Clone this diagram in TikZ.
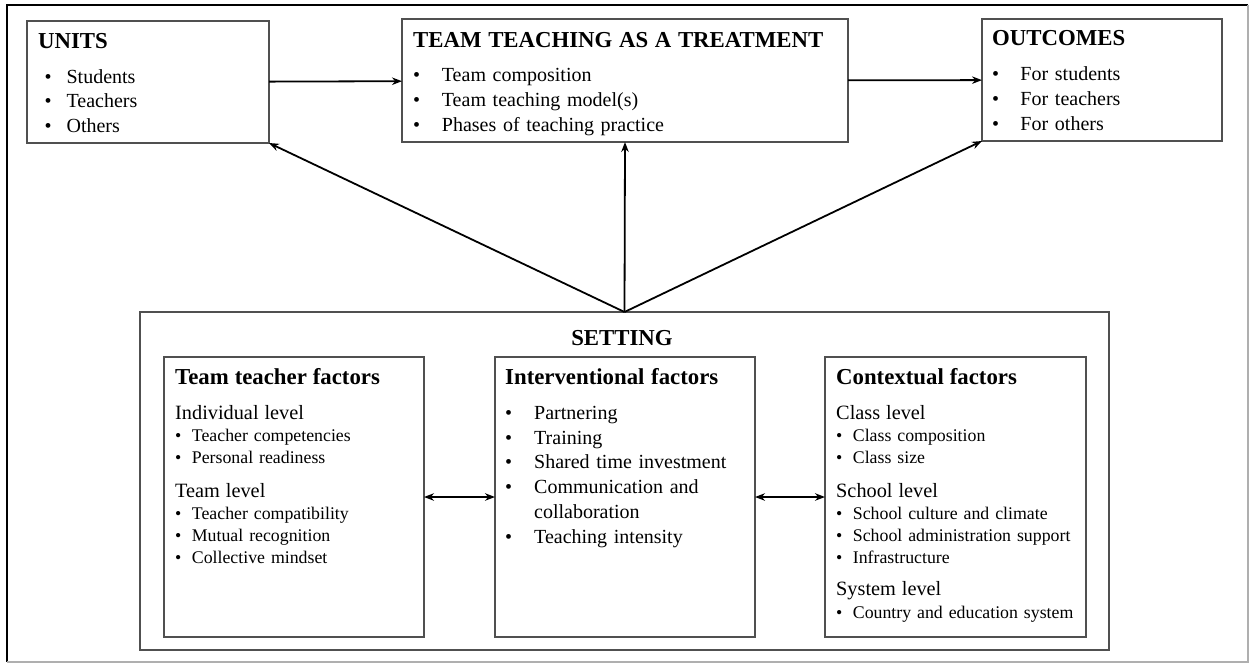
\documentclass[tikz,border=0pt]{standalone}
\usepackage{fontspec}
\setmainfont{Liberation Serif}
\usetikzlibrary{positioning,arrows.meta}
\definecolor{BoxGray}{RGB}{80,80,80}
\definecolor{FrameGray}{RGB}{175,175,175}
\setlength{\parindent}{0pt}
\newcommand{\hd}{\fontsize{22.8}{26}\selectfont\bfseries}
\newcommand{\lvl}{\fontsize{20.3}{22}\selectfont}
\newcommand{\bul}[3][0pt]{\makebox[#2][l]{\hspace*{#1}\textbullet}#3}

\begin{document}
\begin{tikzpicture}[x=1pt, y=-1pt,
  box/.style={draw=BoxGray, line width=1.6pt, inner sep=0pt, outer sep=0pt, anchor=north west},
  txt/.style={inner sep=0pt, anchor=north west, align=left},
  arr/.style={-{Stealth[length=10pt, width=7.5pt]}, line width=1.8pt},
  darr/.style={{Stealth[length=10pt, width=7.5pt]}-{Stealth[length=10pt, width=7.5pt]}, line width=1.8pt}]
  \useasboundingbox (0,0) rectangle (1250,664);
  \draw[line width=1.6pt] (1248,5) -- (7,5) -- (7,662);
  \draw[FrameGray, line width=1.6pt] (7,662) -- (1248,662) -- (1248,5);

  \node[box, minimum width=242pt, minimum height=122pt] (units) at (27,21) {};
  \node[box, minimum width=446pt, minimum height=123pt] (team) at (402,19) {};
  \node[box, minimum width=240pt, minimum height=122pt] (outc) at (982,19) {};

  \node[txt, text width=225pt, font=\fontsize{20}{24.7}\selectfont] (units-t)
    at ([xshift=11pt, yshift=-12pt]units.north west)
    {{\hd UNITS}\\[10.3pt]
     \bul[6.5pt]{28.4pt}{Students}\\
     \bul[6.5pt]{28.4pt}{Teachers}\\
     \bul[6.5pt]{28.4pt}{Others}};
  \node[txt, text width=430pt, font=\fontsize{20}{24.7}\selectfont] (team-t)
    at ([xshift=11pt, yshift=-13pt]team.north west)
    {{\hd TEAM TEACHING AS A TREATMENT}\\[10pt]
     \bul{28.7pt}{Team composition}\\
     \bul{28.7pt}{Team teaching model(s)}\\
     \bul{28.7pt}{Phases of teaching practice}};
  \node[txt, text width=225pt, font=\fontsize{20}{24.7}\selectfont] (outc-t)
    at ([xshift=10pt, yshift=-11pt]outc.north west)
    {{\hd OUTCOMES}\\[10.8pt]
     \bul{28.3pt}{For students}\\
     \bul{28.3pt}{For teachers}\\
     \bul{28.3pt}{For others}};

  \node[box, minimum width=969pt, minimum height=338pt] (setting) at (140,312) {};
  \node[font=\hd, anchor=base, inner sep=0pt] (setlbl) at (622,345) {SETTING};

  \node[box, minimum width=260pt, minimum height=280pt] (ttf) at (164,357) {};
  \node[box, minimum width=260pt, minimum height=280pt, right=71pt of ttf] (ivf) {};
  \node[box, minimum width=261pt, minimum height=280pt, right=70pt of ivf] (ctx) {};

  \node[txt, text width=245pt, font=\fontsize{17.8}{22}\selectfont] (ttf-t)
    at ([xshift=11pt, yshift=-11pt]ttf.north west)
    {{\hd Team teacher factors}\\[13pt]
     {\lvl Individual level}\\
     \bul{16.7pt}{Teacher competencies}\\
     \bul{16.7pt}{Personal readiness}\\[12pt]
     {\lvl Team level}\\
     \bul{16.7pt}{Teacher compatibility}\\
     \bul{16.7pt}{Mutual recognition}\\
     \bul{16.7pt}{Collective mindset}};
  \node[txt, text width=245pt, font=\fontsize{20}{24.8}\selectfont] (ivf-t)
    at ([xshift=10pt, yshift=-11pt]ivf.north west)
    {{\hd Interventional factors}\\[10.2pt]
     \bul{29pt}{Partnering}\\
     \bul{29pt}{Training}\\
     \bul{29pt}{Shared time investment}\\
     \bul{29pt}{Communication and}\\
     \hspace*{29pt}collaboration\\
     \bul{29pt}{Teaching intensity}};
  \node[txt, text width=248pt, font=\fontsize{17.8}{22}\selectfont] (ctx-t)
    at ([xshift=11pt, yshift=-11pt]ctx.north west)
    {{\hd Contextual factors}\\[13pt]
     {\lvl Class level}\\
     \bul{16.7pt}{Class composition}\\
     \bul{16.7pt}{Class size}\\[12pt]
     {\lvl School level}\\
     \bul{16.7pt}{School culture and climate}\\
     \bul{16.7pt}{School administration support}\\
     \bul{16.7pt}{Infrastructure}\\[10.3pt]
     {\lvl System level}\\[1.3pt]
     \bul{16.7pt}{Country and education system}};

  \draw[arr] (units) -- (team);
  \draw[arr] (team) -- (outc);
  \draw[arr] (setting.north) -- (units.south east);
  \draw[arr] (setting.north) -- (team.south);
  \draw[arr] (setting.north) -- (outc.south west);
  \draw[darr] (ttf) -- (ivf);
  \draw[darr] (ivf) -- (ctx);
\end{tikzpicture}
\end{document}
